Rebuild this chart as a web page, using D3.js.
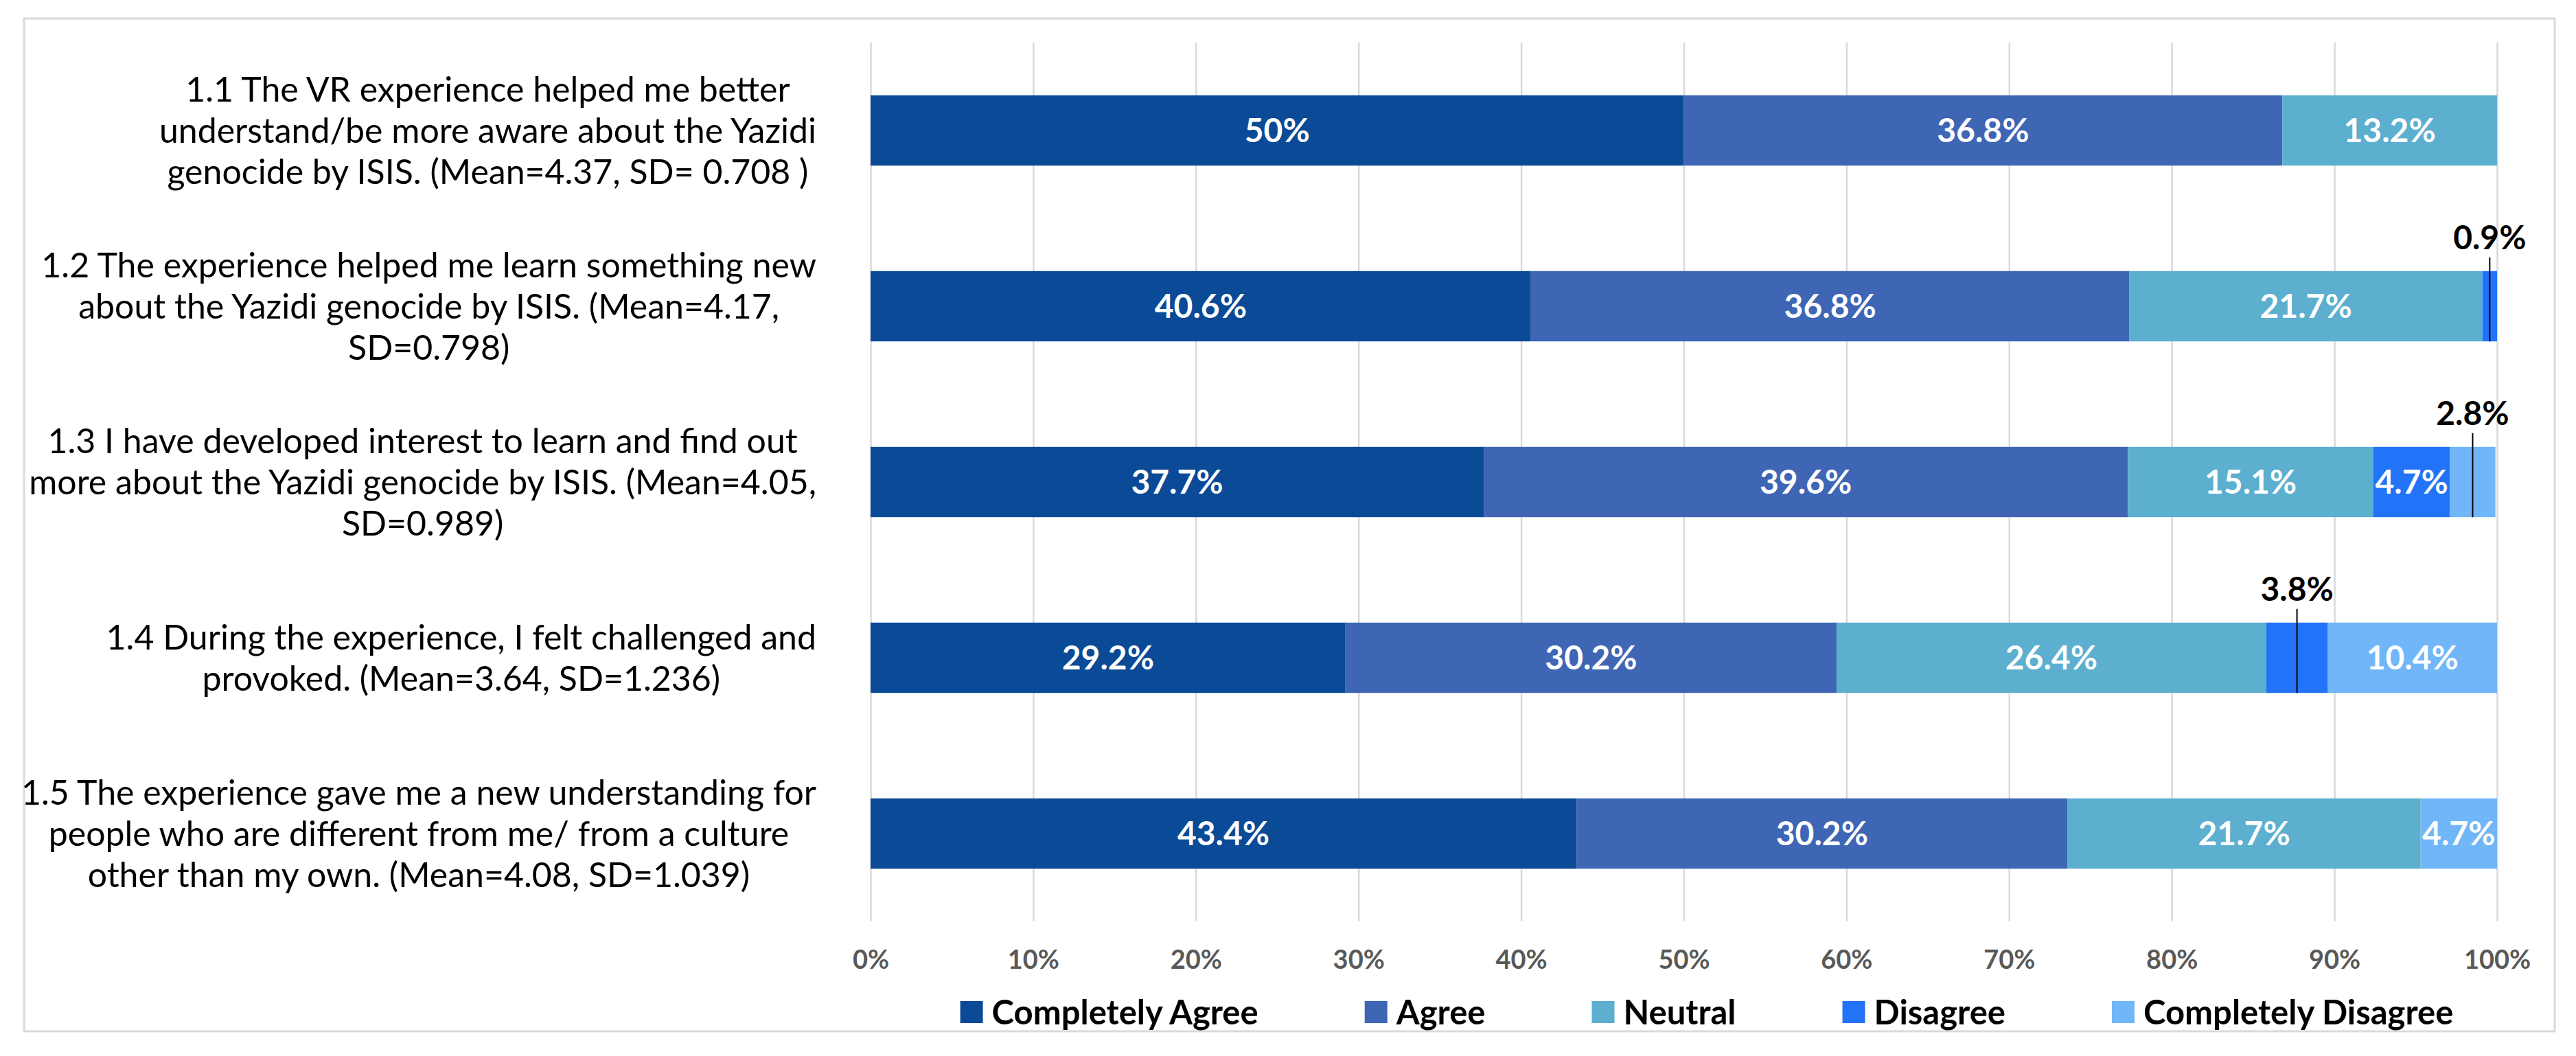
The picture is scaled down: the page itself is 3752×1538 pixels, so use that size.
<!DOCTYPE html>
<html lang="en">

<head>
  <meta charset="UTF-8">
  <script src="https://cdn.jsdelivr.net/npm/d3@7"></script>
  <title>VR experience survey</title>
  <style>
    body { margin: 0; background: #fff; }
    text { font-family: Lato, "Open Sans", sans-serif; }
  </style>
</head>

<body>
  <svg width="3752" height="1538"></svg>
  <script>
    // categories and their wrapped label text
    var categories = ["1.1", "1.2", "1.3", "1.4", "1.5"];
    var categoryLines = [
      ["1.1 The VR experience helped me better", "understand/be more aware about the Yazidi", "genocide by ISIS. (Mean=4.37, SD= 0.708 )"],
      ["1.2 The experience helped me learn something new", "about the Yazidi genocide by ISIS. (Mean=4.17,", "SD=0.798)"],
      ["1.3 I have developed interest to learn and find out", "more about the Yazidi genocide by ISIS. (Mean=4.05,", "SD=0.989)"],
      ["1.4 During the experience, I felt challenged and", "provoked. (Mean=3.64, SD=1.236)"],
      ["1.5 The experience gave me a new understanding for", "people who are different from me/ from a culture", "other than my own. (Mean=4.08, SD=1.039)"]
    ];

    var seriesNames = ["Completely Agree", "Agree", "Neutral", "Disagree", "Completely Disagree"];
    var completelyAgree = [50, 40.6, 37.7, 29.2, 43.4];
    var agree = [36.8, 36.8, 39.6, 30.2, 30.2];
    var neutral = [13.2, 21.7, 15.1, 26.4, 21.7];
    var disagree = [0, 0.9, 4.7, 3.8, 0];
    var completelyDisagree = [0, 0, 2.8, 10.4, 4.7];
    var tickValues = [0, 10, 20, 30, 40, 50, 60, 70, 80, 90, 100];

    var colors = ["#0a4a96", "#3f66b5", "#5cafcf", "#2273f8", "#70b6f8"];

    var svg = d3.select("svg");
    var plot = { left: 1268, right: 3637, top: 62, bottom: 1342 };

    // frame
    svg.append("rect")
      .attr("x", 35).attr("y", 27)
      .attr("width", 3686).attr("height", 1475)
      .attr("fill", "none")
      .attr("stroke", "#d9d9d9")
      .attr("stroke-width", 3);

    var xScale = d3.scaleLinear().domain([0, 100]).range([plot.left, plot.right]);
    var yScale = d3.scaleBand()
      .domain(categories)
      .range([plot.top, plot.bottom])
      .paddingInner(0.6)
      .paddingOuter(0.3);

    // gridlines
    var grid = svg.append("g")
      .attr("transform", `translate(0,${plot.bottom})`)
      .call(d3.axisBottom(xScale).tickValues(tickValues).tickSize(-(plot.bottom - plot.top)).tickFormat(""));
    grid.select(".domain").remove();
    grid.selectAll("line").attr("stroke", "#d9d9d9").attr("stroke-width", 2.5);

    // tick labels
    var xAxis = svg.append("g")
      .attr("transform", `translate(0,${plot.bottom})`)
      .call(d3.axisBottom(xScale).tickValues(tickValues).tickSize(0).tickPadding(42).tickFormat(d => d + "%"));
    xAxis.select(".domain").remove();
    xAxis.selectAll("text")
      .attr("font-family", "Lato, sans-serif")
      .attr("font-size", 38)
      .attr("font-weight", "bold")
      .attr("fill", "#595959");

    // stacked data
    var rows = categories.map((c, i) => ({
      cat: c,
      "Completely Agree": completelyAgree[i],
      "Agree": agree[i],
      "Neutral": neutral[i],
      "Disagree": disagree[i],
      "Completely Disagree": completelyDisagree[i]
    }));
    var stacked = d3.stack().keys(seriesNames)(rows);

    var layers = svg.append("g").selectAll("g")
      .data(stacked)
      .enter()
      .append("g")
      .attr("fill", (d, i) => colors[i]);

    layers.selectAll("rect")
      .data(d => d.filter(s => s[1] - s[0] > 0))
      .enter()
      .append("rect")
      .attr("x", d => xScale(d[0]))
      .attr("y", d => yScale(d.data.cat))
      .attr("width", d => xScale(d[1]) - xScale(d[0]))
      .attr("height", yScale.bandwidth());

    // data labels
    var labels = svg.append("g");
    stacked.forEach(function (layer) {
      layer.forEach(function (s) {
        var v = s.data[layer.key];
        if (!(v > 0)) return;
        var cx = xScale((s[0] + s[1]) / 2);
        var top = yScale(s.data.cat);
        var bottom = top + yScale.bandwidth();
        if (v >= 4) {
          labels.append("text")
            .attr("x", cx)
            .attr("y", top + yScale.bandwidth() / 2)
            .attr("dy", "0.36em")
            .attr("text-anchor", "middle")
            .attr("font-size", 48)
            .attr("font-weight", "bold")
            .attr("fill", "#fff")
            .text(v + "%");
        } else {
          // small values get a callout above the bar
          labels.append("line")
            .attr("x1", cx).attr("x2", cx)
            .attr("y1", top - 20).attr("y2", bottom)
            .attr("stroke", "#000")
            .attr("stroke-width", 2);
          labels.append("text")
            .attr("x", cx)
            .attr("y", top - 32)
            .attr("text-anchor", "middle")
            .attr("font-size", 48)
            .attr("font-weight", "bold")
            .attr("fill", "#000")
            .text(v + "%");
        }
      });
    });

    // category labels: lines centred, block right-aligned to the axis
    var lineHeight = 60;
    var labelRight = 1189;
    categories.forEach(function (c, i) {
      var lines = categoryLines[i];
      var cy = yScale(c) + yScale.bandwidth() / 2;
      var g = svg.append("g");
      var texts = lines.map(function (ln, j) {
        return g.append("text")
          .attr("y", cy + (j - (lines.length - 1) / 2) * lineHeight)
          .attr("dy", "0.36em")
          .attr("text-anchor", "middle")
          .attr("font-size", 50)
          .attr("fill", "#000")
          .text(ln);
      });
      var maxW = d3.max(texts, t => t.node().getComputedTextLength());
      texts.forEach(t => t.attr("x", labelRight - maxW / 2));
    });

    // legend
    var legend = svg.append("g").attr("transform", "translate(0,1474)");
    var items = seriesNames.map(function (name, i) {
      var item = legend.append("g");
      item.append("rect")
        .attr("x", 0).attr("y", -16)
        .attr("width", 33).attr("height", 32)
        .attr("fill", colors[i]);
      var t = item.append("text")
        .attr("x", 46)
        .attr("dy", "0.36em")
        .attr("font-size", 49)
        .attr("font-weight", "bold")
        .attr("fill", "#000")
        .text(name);
      return { g: item, w: 46 + t.node().getComputedTextLength() };
    });
    var gap = 155;
    var total = d3.sum(items, d => d.w) + gap * (items.length - 1);
    var lx = 2486 - total / 2;
    items.forEach(function (it) {
      it.g.attr("transform", `translate(${lx},0)`);
      lx += it.w + gap;
    });
  </script>
</body>

</html>
